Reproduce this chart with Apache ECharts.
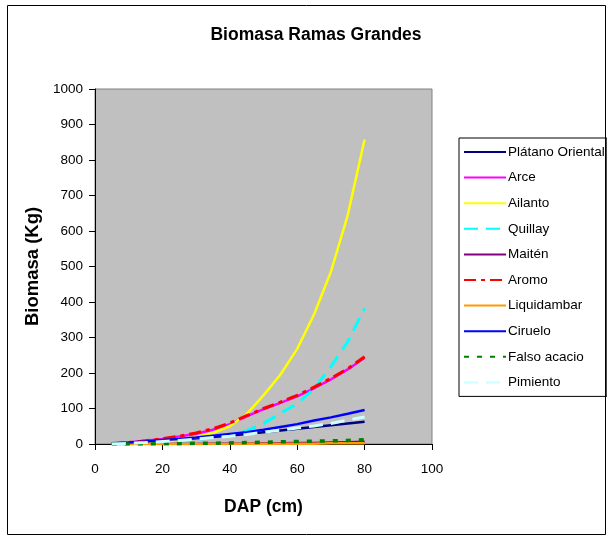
<!DOCTYPE html>
<html><head><meta charset="utf-8">
<script src="https://cdn.jsdelivr.net/npm/echarts@6/dist/echarts.min.js"></script>
<style>html,body{margin:0;padding:0;background:#fff}#c{width:607px;height:537px}</style>
</head><body><div id="c"></div>
<script>
const dap = [5,10,15,20,25,30,35,40,45,50,55,60,65,70,75,80];
const platanoOriental = [1,3,6,9,12,16,20,24,28,33,38,43,48,53,58,63];
const arce = [1,4,9,14,21,29,40,56,78,98,116,134,157,182,210,243];
const ailanto = [0,1,3,6,11,19,31,50,84,137,195,268,365,485,645,858];
const quillay = [0,1,2,4,7,12,19,25,38,58,86,114,155,218,288,382];
const maiten = [0,0,0,0,0,0,1,1,1,2,2,3,3,4,5,6];
const aromo = [1,4,9,15,22,31,43,59,80,100,118,137,160,185,212,246];
const liquidambar = [0,0,0,0,0,0,0,0,1,1,1,1,1,2,2,2];
const ciruelo = [2,4,7,11,14,18,23,28,33,40,48,56,66,75,85,96];
const falsoAcacio = [0,0,0,1,1,2,2,3,4,5,6,7,8,9,10,12];
const pimiento = [0,2,4,7,10,14,18,22,27,33,39,45,51,58,67,76];
const xTicks = [0,20,40,60,80,100];
const yTicks = [0,100,200,300,400,500,600,700,800,900,1000];

const seriesDefs = [
  ['Plátano Oriental', platanoOriental, '#000080', 2.5, 'solid'],
  ['Arce', arce, '#ff00ff', 2.5, 'solid'],
  ['Ailanto', ailanto, '#ffff00', 2.5, 'solid'],
  ['Quillay', quillay, '#00ffff', 3, [14,8]],
  ['Maitén', maiten, '#800080', 2.5, 'solid'],
  ['Aromo', aromo, '#ff0000', 3, [12,5,4,5]],
  ['Liquidambar', liquidambar, '#ff9900', 2.5, 'solid'],
  ['Ciruelo', ciruelo, '#0000ff', 2.5, 'solid'],
  ['Falso acacio', falsoAcacio, '#008000', 3.5, [5,8]],
  ['Pimiento', pimiento, '#ccffff', 3, [14,8]]
];
const FONT = '"Liberation Sans", Arial, sans-serif';
const chart = echarts.init(document.getElementById('c'), null, {renderer:'canvas'});
chart.setOption({
  animation: false,
  backgroundColor: '#ffffff',
  title: {text: 'Biomasa Ramas Grandes', left: 311, top: 21, textAlign: 'center',
    textStyle: {fontFamily: FONT, fontSize: 17.5, fontWeight: 'bold', color: '#000'}},
  grid: {left: 95, top: 89, width: 337, height: 355, show: true,
    backgroundColor: '#c0c0c0', borderColor: '#808080', borderWidth: 1},
  legend: {orient: 'vertical', left: 459, top: 138, width: 150,
    backgroundColor: '#fff', borderColor: '#000', borderWidth: 1,
    padding: [7, 2, 7, 4], itemWidth: 42, itemHeight: 14, itemGap: 11.6,
    itemStyle: {opacity: 0},
    textStyle: {fontFamily: FONT, fontSize: 13.5, color: '#000', padding: [0,0,0,-3]},
    data: seriesDefs.map(s => s[0])},
  xAxis: {type: 'value', min: 0, max: 100, interval: 20,
    name: 'DAP (cm)', nameLocation: 'middle', nameGap: 54,
    nameTextStyle: {fontFamily: FONT, fontSize: 17.5, fontWeight: 'bold', color: '#000'},
    axisLine: {onZero: false, lineStyle: {color: '#000', width: 1}},
    axisTick: {show: true, length: 6, inside: false, lineStyle: {color: '#000'}},
    axisLabel: {fontFamily: FONT, fontSize: 13.5, color: '#000', margin: 18,
      formatter: v => xTicks.includes(v) ? String(v) : ''},
    splitLine: {show: false}},
  yAxis: {type: 'value', min: 0, max: 1000, interval: 100,
    name: 'Biomasa (Kg)', nameLocation: 'middle', nameGap: 53, nameRotate: 90,
    nameTextStyle: {fontFamily: FONT, fontSize: 18.5, fontWeight: 'bold', color: '#000'},
    axisLine: {show: true, lineStyle: {color: '#000', width: 1}},
    axisTick: {show: true, length: 6, inside: false, lineStyle: {color: '#000'}},
    axisLabel: {fontFamily: FONT, fontSize: 13.5, color: '#000', margin: 12,
      formatter: v => yTicks.includes(v) ? String(v) : ''},
    splitLine: {show: false}},
  graphic: [{type: 'rect', left: 5, top: 3, shape: {width: 598, height: 529},
    style: {fill: 'none', stroke: '#000', lineWidth: 1}, silent: true, z: 100}],
  series: seriesDefs.map(s => ({
    name: s[0], type: 'line', data: dap.map((x, i) => [x, s[1][i]]),
    showSymbol: false, symbol: 'none', color: s[2],
    lineStyle: {color: s[2], width: s[3], type: s[4]}, clip: true
  }))
});
</script></body></html>
